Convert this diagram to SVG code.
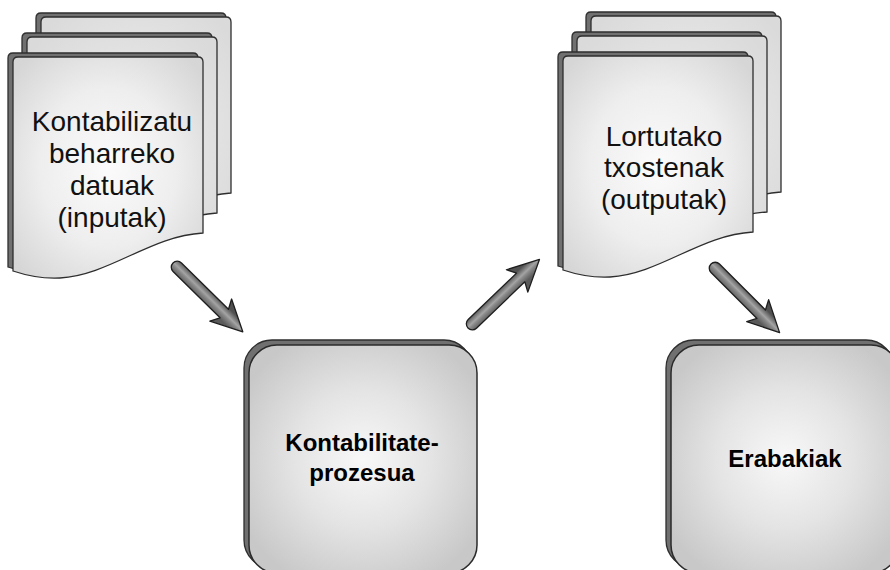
<svg xmlns="http://www.w3.org/2000/svg" width="890" height="570" viewBox="0 0 890 570">
<style>
.pg{fill:url(#pageGrad);stroke:#2e2e2e;stroke-width:1.3}
.pgb{fill:url(#pageGradB);stroke:#2e2e2e;stroke-width:1.3}
.sh{fill:#707070;stroke:#2e2e2e;stroke-width:1.3}
.box{fill:url(#boxGrad);stroke:#2a2a2a;stroke-width:1.5}
.arr{fill:url(#arrGrad);stroke:#1e1e1e;stroke-width:1.3;stroke-linejoin:round}
.t{font-family:"Liberation Sans",Arial,sans-serif;font-size:28px;fill:#111;text-anchor:middle}
.tb{font-family:"Liberation Sans",Arial,sans-serif;font-size:24px;font-weight:bold;fill:#000;text-anchor:middle}
</style>
<defs>
<radialGradient id="pageGrad" cx="0.5" cy="0.5" r="0.65">
<stop offset="0" stop-color="#fbfbfb"/>
<stop offset="0.55" stop-color="#eeeeee"/>
<stop offset="1" stop-color="#d6d6d6"/>
</radialGradient>
<radialGradient id="pageGradB" cx="0.5" cy="0.5" r="0.65">
<stop offset="0" stop-color="#f0f0f0"/>
<stop offset="1" stop-color="#dadada"/>
</radialGradient>
<radialGradient id="boxGrad" cx="0.5" cy="0.5" r="0.6">
<stop offset="0" stop-color="#f8f8f8"/>
<stop offset="0.5" stop-color="#e4e4e4"/>
<stop offset="1" stop-color="#c8c8c8"/>
</radialGradient>
<linearGradient id="arrGrad" gradientUnits="userSpaceOnUse" x1="0" y1="-7" x2="0" y2="7">
<stop offset="0" stop-color="#505050"/>
<stop offset="0.45" stop-color="#a4a4a4"/>
<stop offset="0.6" stop-color="#8a8a8a"/>
<stop offset="1" stop-color="#5a5a5a"/>
</linearGradient>
<path id="doc" d="M13,62 Q13,57 18,57 L198,57 Q203,57 203,62 L203,233 C150,236 110,275 60,278 C40,279 25,275 13,271 Z"/>
</defs>

<g id="inputs">
<use href="#doc" class="sh" transform="translate(23,-44)"/>
<use href="#doc" class="pgb" transform="translate(28,-40)"/>
<use href="#doc" class="sh" transform="translate(9,-24)"/>
<use href="#doc" class="pgb" transform="translate(14,-20)"/>
<use href="#doc" class="sh" transform="translate(-5,-4)"/>
<use href="#doc" class="pg"/>
<text class="t" x="112" y="131">Kontabilizatu</text>
<text class="t" x="112" y="163">beharreko</text>
<text class="t" x="112" y="195">datuak</text>
<text class="t" x="112" y="227">(inputak)</text>
</g>

<g id="outputs">
<use href="#doc" class="sh" transform="translate(573,-45)"/>
<use href="#doc" class="pgb" transform="translate(578,-41)"/>
<use href="#doc" class="sh" transform="translate(559,-25)"/>
<use href="#doc" class="pgb" transform="translate(564,-21)"/>
<use href="#doc" class="sh" transform="translate(545,-5)"/>
<use href="#doc" class="pg" transform="translate(550,-1)"/>
<text class="t" x="664" y="146">Lortutako</text>
<text class="t" x="664" y="177">txostenak</text>
<text class="t" x="664" y="209">(outputak)</text>
</g>

<g id="process">
<rect class="sh" x="244" y="340" width="228" height="228" rx="28"/>
<rect class="box" x="249" y="345" width="228" height="228" rx="28"/>
<text class="tb" x="362" y="451">Kontabilitate-</text>
<text class="tb" x="362" y="481">prozesua</text>
</g>

<g id="decisions">
<rect class="sh" x="666" y="340" width="228" height="228" rx="28"/>
<rect class="box" x="671" y="345" width="228" height="228" rx="28"/>
<text class="tb" x="785" y="467">Erabakiak</text>
</g>

<g id="connectors">
<path class="arr" transform="translate(173,263) rotate(44.6)" d="M6,-6 L72,-6 L67,-15.5 L98,0 L67,15.5 L72,6 L6,6 A6,6 0 0 1 6,-6 Z"/>
<path class="arr" transform="translate(468,328) rotate(-43.8)" d="M6,-6 L73,-6 L68,-15.5 L99,0 L68,15.5 L73,6 L6,6 A6,6 0 0 1 6,-6 Z"/>
<path class="arr" transform="translate(711,264) rotate(45)" d="M6,-6 L71,-6 L66,-15.5 L97,0 L66,15.5 L71,6 L6,6 A6,6 0 0 1 6,-6 Z"/>
</g>
</svg>
